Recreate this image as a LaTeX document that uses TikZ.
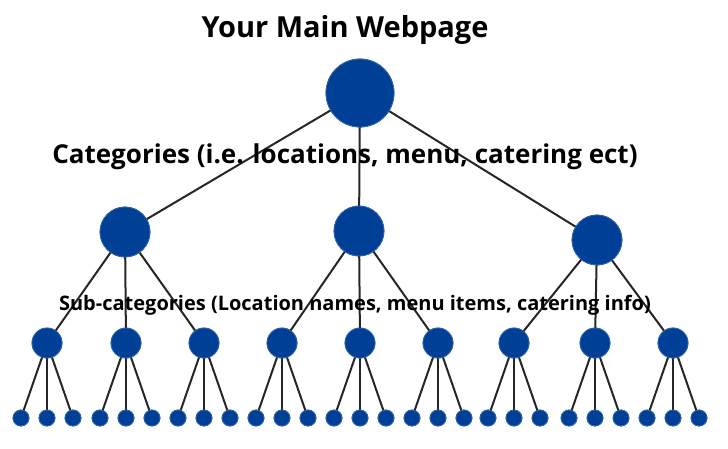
\documentclass[tikz,border=0pt]{standalone}
\usepackage{fontspec}
\setmainfont{Open Sans}
\definecolor{nodeblue}{HTML}{003F96}
\begin{document}
\begin{tikzpicture}[x=1pt,y=-1pt,
  dot/.style={circle,fill=nodeblue,draw=nodeblue!80!white,line width=0.8pt,inner sep=0pt,minimum size=#1},
  edge/.style={line width=2pt,black!85},
  lbl/.style={font=\bfseries,inner sep=0pt}]
\useasboundingbox (0,0) rectangle (728,449);
\node[dot=68pt] (r) at (360,93) {};
\node[dot=50pt] (a) at (125,232) {};
\node[dot=50pt] (b) at (359,231) {};
\node[dot=50pt] (c) at (597,240) {};
\foreach \x [count=\i] in {47,126,204,282,360,438,514,595,673}{
  \node[dot=30pt] (m\i) at (\x,343) {};
  \foreach \d [count=\j] in {-26,0,26}{
    \node[dot=16pt] (l\i-\j) at (\x+\d,418) {};
  }
}
\foreach \p in {a,b,c}{\draw[edge] (r.center) -- (\p.center);}
\foreach \i in {1,2,3}{\draw[edge] (a.center) -- (m\i.center);}
\foreach \i in {4,5,6}{\draw[edge] (b.center) -- (m\i.center);}
\foreach \i in {7,8,9}{\draw[edge] (c.center) -- (m\i.center);}
\foreach \i in {1,...,9}{\foreach \j in {1,2,3}{\draw[edge] (m\i.center) -- (l\i-\j.center);}}
\node[dot=68pt] at (r) {};
\foreach \p in {a,b,c}{\node[dot=50pt] at (\p) {};}
\foreach \i in {1,...,9}{\node[dot=30pt] at (m\i) {};
  \foreach \j in {1,2,3}{\node[dot=16pt] at (l\i-\j) {};}}
\node[lbl,font=\bfseries\fontsize{29}{34}\selectfont] (t1) at (345,30) {Your Main Webpage};
\node[lbl,font=\bfseries\fontsize{26}{30}\selectfont] (t2) at (345,157) {Categories (i.e. locations, menu, catering ect)};
\node[lbl,font=\bfseries\fontsize{20}{24}\selectfont] (t3) at (355,305) {Sub-categories (Location names, menu items, catering info)};
\end{tikzpicture}
\end{document}
